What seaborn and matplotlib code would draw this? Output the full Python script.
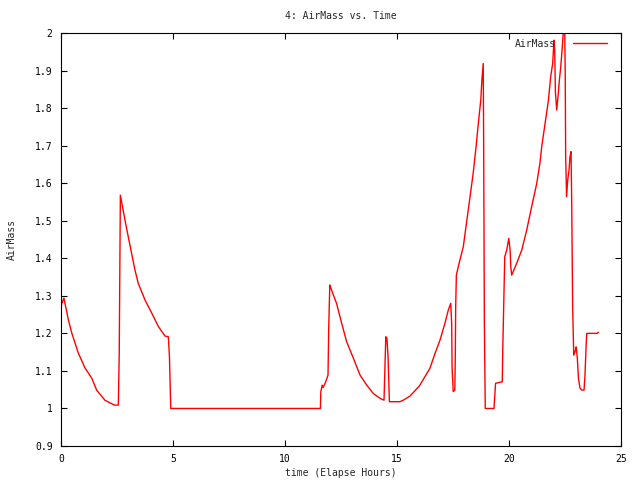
import matplotlib
matplotlib.use("Agg")
import matplotlib.pyplot as plt
import seaborn as sns
import pandas as pd

# elapsed hours / airmass
hours = [
    0.0, 0.13, 0.33, 0.48, 0.77, 1.07, 1.37, 1.59, 1.96, 2.38, 2.56,
    2.6, 2.65, 2.9, 3.3, 3.45, 3.75, 4.05, 4.35, 4.64, 4.79, 4.84, 4.9,
    11.58, 11.6, 11.66, 11.7, 11.79, 11.87, 11.92, 11.95, 12.0, 12.05,
    12.3, 12.53, 12.75, 13.05, 13.35, 13.65, 13.94, 14.24, 14.42,
    14.44, 14.5, 14.55, 14.6, 14.66, 15.13, 15.28, 15.58,
    16.0, 16.47, 16.7, 16.92, 17.14, 17.29, 17.4, 17.44, 17.46, 17.51,
    17.58, 17.6, 17.62, 17.65, 17.77, 17.96, 18.1, 18.26, 18.4, 18.53,
    18.63, 18.74, 18.79, 18.85, 18.87, 18.9, 18.94, 19.33, 19.4, 19.7,
    19.72, 19.78, 19.81, 19.9, 19.99, 20.05, 20.08, 20.12, 20.34, 20.57,
    20.79, 21.01, 21.24, 21.38, 21.46, 21.61, 21.76, 21.86, 21.95, 22.01,
    22.04, 22.07, 22.13, 22.16, 22.2, 22.25, 22.31, 22.37, 22.42, 22.49,
    22.51, 22.53, 22.57, 22.62, 22.68, 22.72, 22.77, 22.8, 22.84, 22.89,
    22.95, 22.98, 23.0, 23.05, 23.1, 23.17, 23.25, 23.35, 23.39, 23.44,
    23.47, 23.94, 23.99,
]
airmass = [
    1.273, 1.294, 1.236, 1.201, 1.148, 1.108, 1.081, 1.049, 1.022, 1.009, 1.009,
    1.148, 1.568, 1.488, 1.369, 1.333, 1.289, 1.254, 1.218, 1.193, 1.191, 1.14, 1.0,
    1.0, 1.045, 1.062, 1.056, 1.067, 1.080, 1.089, 1.21, 1.329, 1.32,
    1.28, 1.227, 1.178, 1.134, 1.089, 1.062, 1.040, 1.027, 1.022,
    1.062, 1.191, 1.187, 1.138, 1.018, 1.018, 1.022, 1.033,
    1.06, 1.107, 1.147, 1.182, 1.227, 1.262, 1.280, 1.227, 1.107, 1.045,
    1.049, 1.124, 1.271, 1.355, 1.386, 1.431, 1.493, 1.564, 1.626, 1.697,
    1.759, 1.821, 1.875, 1.919, 1.688, 1.231, 1.0, 1.0, 1.067, 1.071,
    1.151, 1.315, 1.404, 1.422, 1.453, 1.422, 1.377, 1.355, 1.386, 1.422,
    1.475, 1.537, 1.600, 1.653, 1.697, 1.759, 1.821, 1.883, 1.919, 1.981,
    1.955, 1.844, 1.795, 1.813, 1.839, 1.875, 1.910, 1.955, 1.999, 1.999,
    1.889, 1.67, 1.564, 1.608, 1.635, 1.670, 1.684, 1.546, 1.275, 1.142,
    1.151, 1.160, 1.164, 1.134, 1.080, 1.054, 1.049, 1.049, 1.085, 1.164,
    1.200, 1.200, 1.203,
]

xticks = [0, 5, 10, 15, 20, 25]
yticks = [0.9, 1.0, 1.1, 1.2, 1.3, 1.4, 1.5, 1.6, 1.7, 1.8, 1.9, 2.0]
ytick_labels = ["0.9", "1", "1.1", "1.2", "1.3", "1.4", "1.5", "1.6", "1.7", "1.8", "1.9", "2"]

df = pd.DataFrame({"time": hours, "AirMass": airmass})

sns.set_style("ticks")
plt.rcParams["font.family"] = ["DejaVu Sans Mono"]
plt.rcParams["font.size"] = 7

fig = plt.figure(figsize=(6.4, 4.8), dpi=100)
ax = fig.add_axes([61 / 640, 1 - 446 / 480, 560 / 640, 413 / 480])

sns.lineplot(data=df, x="time", y="AirMass", sort=False, estimator=None,
             color="red", linewidth=1.0, label="AirMass", ax=ax)

ax.set_xlim(0, 25)
ax.set_ylim(0.9, 2.0)
ax.set_xticks(xticks)
ax.set_xticklabels([str(t) for t in xticks])
ax.set_yticks(yticks)
ax.set_yticklabels(ytick_labels)
ax.tick_params(direction="in", length=4, width=0.8, top=True, right=True,
               labelsize=7, colors="black", pad=6)
for s in ax.spines.values():
    s.set_visible(True)
    s.set_color("black")
    s.set_linewidth(0.8)

ax.set_title("4: AirMass vs. Time", fontsize=7, pad=10)
ax.set_xlabel("time (Elapse Hours)", fontsize=7, labelpad=3)
ax.set_ylabel("AirMass", fontsize=7, labelpad=13)

# key sits in the top-right corner like gnuplot's
ax.legend(loc="upper right", bbox_to_anchor=(0.986, 1.0), frameon=False,
          markerfirst=False, handlelength=3.5, handletextpad=1.8,
          fontsize=7, borderaxespad=0.2)

fig.savefig("out.png", dpi=100)
